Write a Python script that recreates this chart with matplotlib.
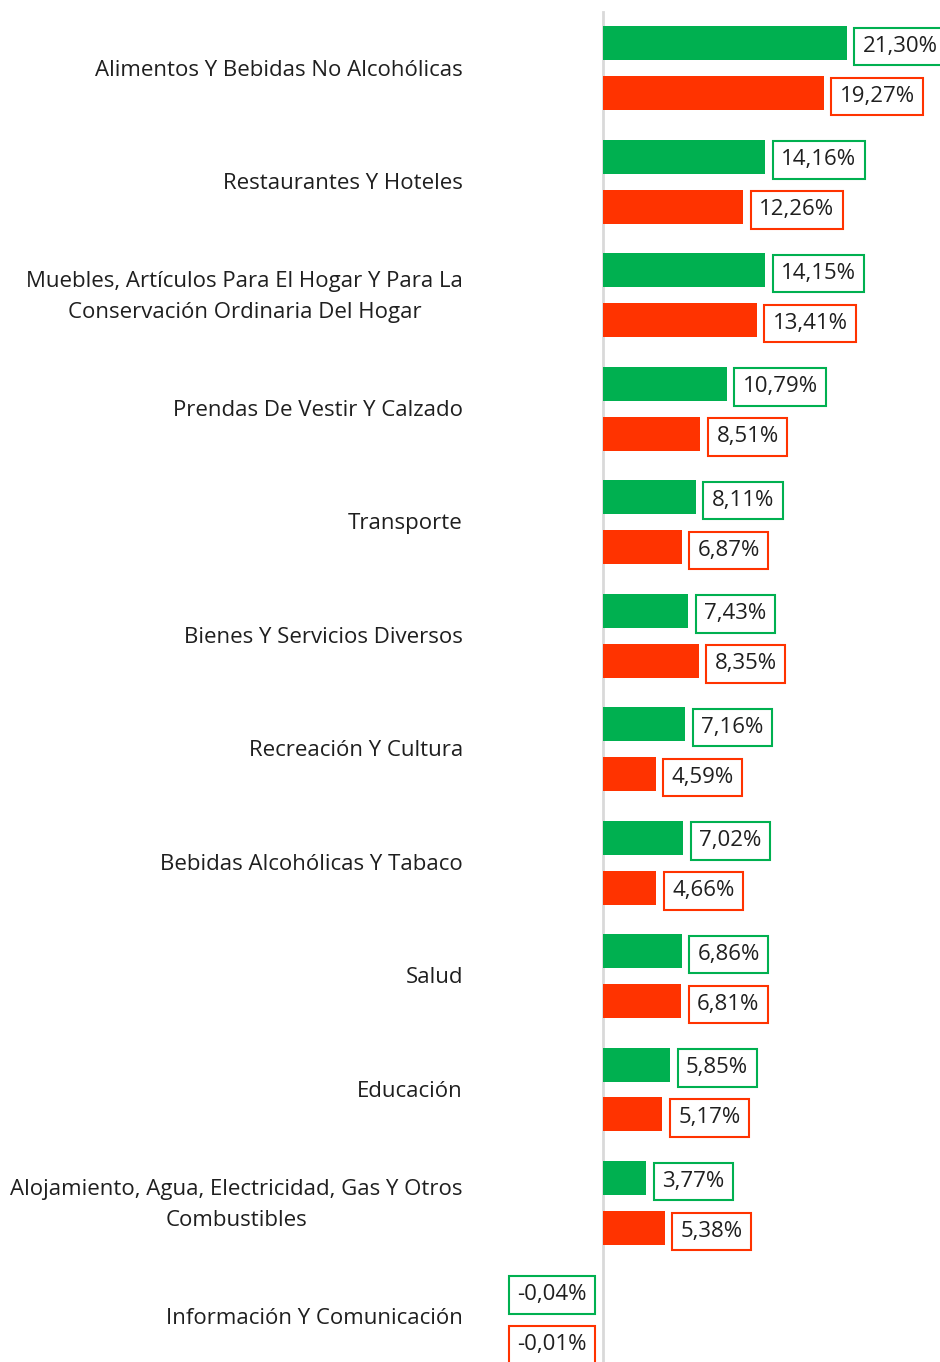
import matplotlib.pyplot as plt
import numpy as np

plt.rcParams['font.family'] = ['Open Sans', 'DejaVu Sans']

categorias = [
    "Alimentos Y Bebidas No Alcohólicas",
    "Restaurantes Y Hoteles",
    "Muebles, Artículos Para El Hogar Y Para La\nConservación Ordinaria Del Hogar",
    "Prendas De Vestir Y Calzado",
    "Transporte",
    "Bienes Y Servicios Diversos",
    "Recreación Y Cultura",
    "Bebidas Alcohólicas Y Tabaco",
    "Salud",
    "Educación",
    "Alojamiento, Agua, Electricidad, Gas Y Otros\nCombustibles",
    "Información Y Comunicación",
]
serie_verde = [21.30, 14.16, 14.15, 10.79, 8.11, 7.43, 7.16, 7.02, 6.86, 5.85, 3.77, -0.04]
serie_roja = [19.27, 12.26, 13.41, 8.51, 6.87, 8.35, 4.59, 4.66, 6.81, 5.17, 5.38, -0.01]

VERDE = "#00B050"
ROJO = "#FF3300"

W, H = 940, 1362
fig = plt.figure(figsize=(W / 100, H / 100), dpi=100)
ax = fig.add_axes([0, 0, 1, 1])

# pixel -> data mapping: zero at x=603 px, ~11.45 px per %
px_per_unit = 11.45
x0 = 603
ax.set_xlim(-x0 / px_per_unit, (W - x0) / px_per_unit)
# group centres at 68 + 113.5*i px from top
ax.set_ylim(11 + (H - 1316.5) / 113.5, -(68 / 113.5))

y = np.arange(len(categorias))
off = 25 / 113.5
h = 34 / 113.5

ax.barh(y - off, serie_verde, height=h, color=VERDE)
ax.barh(y + off, serie_roja, height=h, color=ROJO)

ax.axvline(0, color="#D9D9D9", lw=2, ymax=1 - 12 / H, zorder=0)


def etiqueta(val, yy, color):
    fmt = f"{val:.2f}".replace(".", ",") + "%"
    sign = 1 if val >= 0 else -1
    ax.annotate(fmt, (val, yy), xytext=(sign * 11.5, -2.5), textcoords="offset points",
                ha="left" if val >= 0 else "right", va="center", fontsize=16,
                color="#1f1f1f",
                bbox=dict(boxstyle="square,pad=0.38", fc="white", ec=color, lw=1.5))


for i in range(len(categorias)):
    etiqueta(serie_verde[i], y[i] - off, VERDE)
    etiqueta(serie_roja[i], y[i] + off, ROJO)
    ax.text((463 - x0) / px_per_unit, y[i] + 2 / 113.5, categorias[i], ha="right", va="center",
            multialignment="center", fontsize=16, color="#1f1f1f", linespacing=1.6)

ax.axis("off")
fig.savefig("out.png", dpi=100)
